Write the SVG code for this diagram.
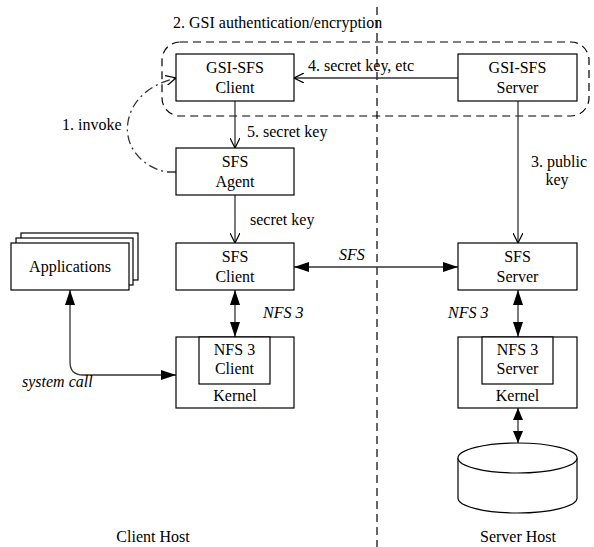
<svg xmlns="http://www.w3.org/2000/svg" width="594" height="547" viewBox="0 0 594 547" font-family="'Liberation Serif', 'DejaVu Serif', serif" font-size="16">
<style>
text{font-family:'Liberation Serif','DejaVu Serif',serif;font-size:16px;fill:#000}
.c{text-anchor:middle}
.i{font-style:italic}
.box{fill:#fff;stroke:#000;stroke-width:1.2}
.ln{fill:none;stroke:#333;stroke-width:1.3}
.dash{fill:none;stroke:#000;stroke-width:1.2;stroke-dasharray:8,5}
</style>
<defs>
<marker id="open" viewBox="0 0 10 10" refX="10" refY="5" markerWidth="10" markerHeight="10" markerUnits="userSpaceOnUse" orient="auto-start-reverse">
<path d="M0,0 L10,5 L0,10" fill="none" stroke="#000" stroke-width="1.2"/>
</marker>
<marker id="fill" viewBox="0 0 15 10" refX="15" refY="5" markerWidth="15" markerHeight="10" markerUnits="userSpaceOnUse" orient="auto-start-reverse">
<path d="M0,0 L15,5 L0,10 Z" fill="#000"/>
</marker>
<marker id="fills" viewBox="0 0 12 10" refX="12" refY="5" markerWidth="12" markerHeight="10" markerUnits="userSpaceOnUse" orient="auto-start-reverse">
<path d="M0,0 L12,5 L0,10 Z" fill="#000"/>
</marker>
</defs>

<g id="hosts">
<line x1="377" y1="7" x2="377" y2="547" class="dash"/>
<text x="153" y="542" class="c">Client Host</text>
<text x="518" y="542" class="c">Server Host</text>
</g>

<g id="gsi-group">
<rect x="162" y="42" width="427" height="74" rx="18" ry="18" class="dash"/>
<text x="173" y="28">2. GSI authentication/encryption</text>
</g>

<g id="connectors">
<path d="M176,172 L166,172 C140,166 124,145 128,122 C132,98 152,84 176,78" class="ln" stroke-dasharray="9,4,2,4" marker-end="url(#open)"/>
<line x1="458" y1="78" x2="294" y2="78" class="ln" marker-end="url(#open)"/>
<line x1="235" y1="101" x2="235" y2="148" class="ln" marker-end="url(#open)"/>
<line x1="235" y1="195" x2="235" y2="243" class="ln" marker-end="url(#open)"/>
<line x1="518" y1="101" x2="518" y2="243" class="ln" marker-end="url(#open)"/>
<line x1="294" y1="267" x2="458" y2="267" class="ln" marker-start="url(#fill)" marker-end="url(#fill)"/>
<line x1="235" y1="290" x2="235" y2="337" class="ln" marker-start="url(#fill)" marker-end="url(#fill)"/>
<line x1="518" y1="290" x2="518" y2="337" class="ln" marker-start="url(#fill)" marker-end="url(#fill)"/>
<line x1="518" y1="408" x2="518" y2="443" class="ln" marker-start="url(#fills)" marker-end="url(#fills)"/>
<path d="M70,290 L70,362 Q70,375 83,375 L176,375" class="ln" marker-start="url(#fill)" marker-end="url(#fill)"/>
<text x="62" y="130">1. invoke</text>
<text x="308" y="71">4. secret key, etc</text>
<text x="247" y="137">5. secret key</text>
<text x="250" y="225">secret key</text>
<text x="559" y="167" class="c">3. public</text>
<text x="557" y="185" class="c">key</text>
<text x="339" y="260" class="i">SFS</text>
<text x="263" y="318" class="i">NFS 3</text>
<text x="448" y="318" class="i">NFS 3</text>
<text x="22" y="387" class="i">system call</text>
</g>

<g id="gsi-sfs-client">
<rect x="176" y="54" width="118" height="47" class="box"/>
<text x="235" y="73" class="c">GSI-SFS</text>
<text x="235" y="93" class="c">Client</text>
</g>

<g id="gsi-sfs-server">
<rect x="458" y="54" width="119" height="47" class="box"/>
<text x="517.5" y="73" class="c">GSI-SFS</text>
<text x="517.5" y="93" class="c">Server</text>
</g>

<g id="sfs-agent">
<rect x="176" y="148" width="118" height="47" class="box"/>
<text x="235" y="167" class="c">SFS</text>
<text x="235" y="187" class="c">Agent</text>
</g>

<g id="sfs-client">
<rect x="176" y="243" width="118" height="47" class="box"/>
<text x="235" y="262" class="c">SFS</text>
<text x="235" y="282" class="c">Client</text>
</g>

<g id="sfs-server">
<rect x="458" y="243" width="119" height="47" class="box"/>
<text x="517.5" y="262" class="c">SFS</text>
<text x="517.5" y="282" class="c">Server</text>
</g>

<g id="applications">
<rect x="21" y="233" width="117" height="47" class="box"/>
<rect x="16" y="238" width="117" height="47" class="box"/>
<rect x="11" y="243" width="118" height="47" class="box"/>
<text x="70" y="272" class="c">Applications</text>
</g>

<g id="client-kernel">
<rect x="176" y="337" width="118" height="71" class="box"/>
<rect x="199" y="337" width="71" height="47" class="box"/>
<text x="234.5" y="355" class="c">NFS 3</text>
<text x="234.5" y="374" class="c">Client</text>
<text x="235" y="401" class="c">Kernel</text>
</g>

<g id="server-kernel">
<rect x="458" y="337" width="119" height="71" class="box"/>
<rect x="482" y="337" width="71" height="47" class="box"/>
<text x="517.5" y="355" class="c">NFS 3</text>
<text x="517.5" y="374" class="c">Server</text>
<text x="517.5" y="401" class="c">Kernel</text>
</g>

<g id="disk">
<path d="M458,458 L458,498 A59.5,15 0 0 0 577,498 L577,458" class="box"/>
<ellipse cx="517.5" cy="458" rx="59.5" ry="15" class="box"/>
</g>
</svg>
